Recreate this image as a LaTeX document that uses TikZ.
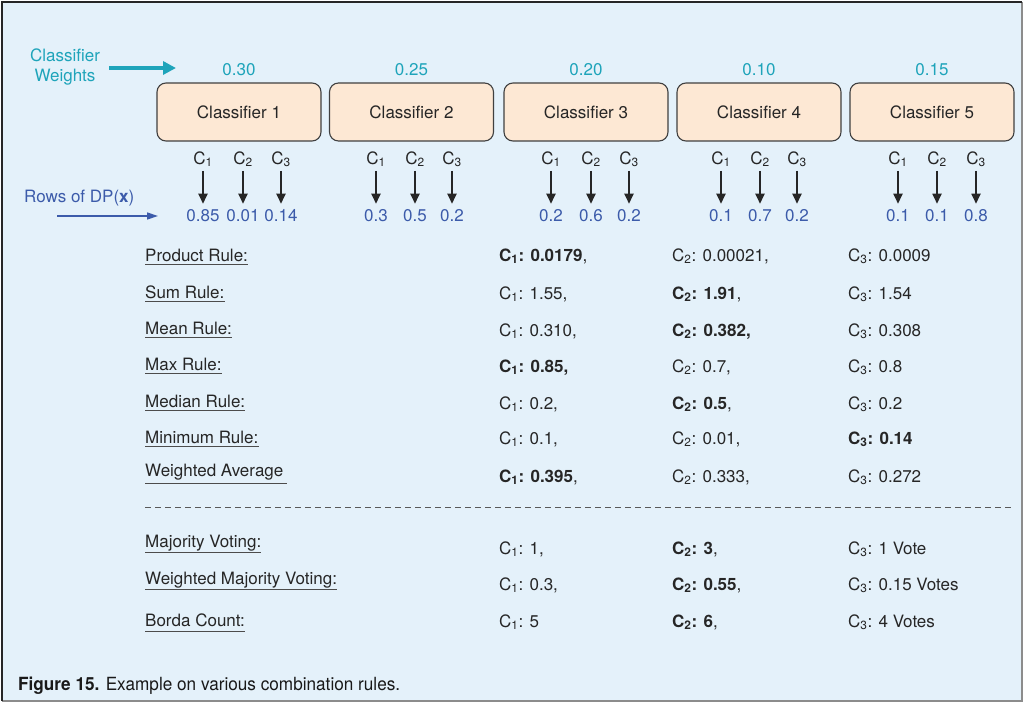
\documentclass[tikz,border=0pt]{standalone}
\usepackage{fontspec}
\setmainfont{TeX Gyre Heros}
\usetikzlibrary{arrows.meta}
\definecolor{bgblue}{HTML}{E4F1FA}
\definecolor{wteal}{HTML}{1EA4BA}
\definecolor{dpblue}{HTML}{3C5BAA}
\definecolor{boxfill}{HTML}{FDE8D4}
\newcommand\Cx[1]{C\textsubscript{#1}}
\tikzset{
  txt/.style={font=\fontsize{17}{20}\selectfont, inner sep=0pt, text=black!85},
  cbox/.style={draw=black!75, line width=1.1pt, fill=boxfill, rounded corners=9pt,
    minimum width=164pt, minimum height=58pt, font=\fontsize{17}{20}\selectfont, text=black!85},
  wt/.style={txt, text=wteal},
  clab/.style={txt, anchor=base, inner sep=2pt},
  vlab/.style={txt, anchor=base, inner sep=2pt, text=dpblue},
  darr/.style={-{Triangle[width=9pt,length=10pt]}, line width=1.8pt, black!85, shorten <=2pt, shorten >=3pt},
  rlab/.style={txt, anchor=base west},
  rval/.style={txt, anchor=base west},
  uline/.style={line width=1pt, black!70},
}
\begin{document}
\begin{tikzpicture}[x=1pt,y=-1pt]
\useasboundingbox (0,0) rectangle (1027,706);
\fill[bgblue] (2,2) rectangle (1022,701);
\draw[black!45, line width=2pt] (1022,2) -- (1022,701) -- (2,701);
\draw[black!85, line width=2pt] (2,701) -- (2,2) -- (1022,2);

% classifier weights
\node[wt, align=center] (cw) at (65,67) {Classifier\\Weights};
\coordinate (cwstart) at (109,68);
\coordinate (cwend) at (176,68);
\draw[wteal, line width=4pt, -{Triangle[width=13pt,length=13pt]}] (cwstart) -- (cwend);

% rows of DP(x)
\node[txt, text=dpblue, anchor=west] (dp) at (24,198) {Rows of DP(\textbf{x})};
\coordinate (dps) at (57,216);
\coordinate (dpe) at (158,216);
\draw[dpblue, line width=1.4pt, -{Triangle[width=7pt,length=11pt]}] (dps) -- (dpe);

% classifiers
\foreach \i/\cx/\w/\xa/\xb/\xc/\va/\vb/\vc in {
  1/239/0.30/203/243/281/0.85/0.01/0.14,
  2/411.5/0.25/376/415/452/0.3/0.5/0.2,
  3/586/0.20/551/591/629/0.2/0.6/0.2,
  4/759/0.10/721/760/797/0.1/0.7/0.2,
  5/932/0.15/898/937/976/0.1/0.1/0.8}{
  \node[cbox] (k\i) at (\cx,112) {Classifier \i};
  \node[wt] (w\i) at (\cx,70) {\w};
  \node[clab] (c\i a) at (\xa,164) {\Cx{1}};
  \node[clab] (c\i b) at (\xb,164) {\Cx{2}};
  \node[clab] (c\i c) at (\xc,164) {\Cx{3}};
  \node[vlab] (v\i a) at (\xa,221) {\va};
  \node[vlab] (v\i b) at (\xb,221) {\vb};
  \node[vlab] (v\i c) at (\xc,221) {\vc};
  \draw[darr] (c\i a) -- (v\i a);
  \draw[darr] (c\i b) -- (v\i b);
  \draw[darr] (c\i c) -- (v\i c);
}

% rules
\foreach \n/\lab/\ly/\vy/\A/\B/\C in {
  1/{Product Rule:}/261/261/{\textbf{\Cx{1}: 0.0179},}/{\Cx{2}: 0.00021,}/{\Cx{3}: 0.0009},
  2/{Sum Rule:}/298/299/{\Cx{1}: 1.55,}/{\textbf{\Cx{2}: 1.91},}/{\Cx{3}: 1.54},
  3/{Mean Rule:}/334/336/{\Cx{1}: 0.310,}/{\textbf{\Cx{2}: 0.382,}}/{\Cx{3}: 0.308},
  4/{Max Rule:}/370/372/{\textbf{\Cx{1}: 0.85,}}/{\Cx{2}: 0.7,}/{\Cx{3}: 0.8},
  5/{Median Rule:}/407/409/{\Cx{1}: 0.2,}/{\textbf{\Cx{2}: 0.5},}/{\Cx{3}: 0.2},
  6/{Minimum Rule:}/443/444/{\Cx{1}: 0.1,}/{\Cx{2}: 0.01,}/{\textbf{\Cx{3}: 0.14}}}{
  \node[rlab] (r\n) at (145,\ly) {\lab};
  \draw[uline] ([yshift=-3.5pt]r\n.base west) -- ([yshift=-3.5pt]r\n.base east);
  \node[rval] (r\n a) at (499,\vy) {\A};
  \node[rval] (r\n b) at (672,\vy) {\B};
  \node[rval] (r\n c) at (848,\vy) {\C};
}
\node[rlab] (r7) at (145,476) {Weighted Average};
\draw[uline] ([yshift=-7pt]r7.base west) -- ([yshift=-7pt,xshift=3pt]r7.base east);
\node[rval] (r7a) at (499,482) {\textbf{\Cx{1}: 0.395},};
\node[rval] (r7b) at (672,482) {\Cx{2}: 0.333,};
\node[rval] (r7c) at (848,482) {\Cx{3}: 0.272};

% dashed separator
\coordinate (dl) at (145,507);
\coordinate (dr) at (1012,507);
\draw[black!65, line width=1pt, dash pattern=on 6pt off 4pt] (dl) -- (dr);

% voting rules
\foreach \n/\lab/\ly/\vy/\A/\B/\C in {
  8/{Majority Voting:}/547/554/{\Cx{1}: 1,}/{\textbf{\Cx{2}: 3},}/{\Cx{3}: 1 Vote},
  9/{Weighted Majority Voting:}/584/590/{\Cx{1}: 0.3,}/{\textbf{\Cx{2}: 0.55},}/{\Cx{3}: 0.15 Votes},
  10/{Borda Count:}/626/627/{\Cx{1}: 5}/{\textbf{\Cx{2}: 6},}/{\Cx{3}: 4 Votes}}{
  \node[rlab] (r\n) at (145,\ly) {\lab};
  \draw[uline] ([yshift=-5pt]r\n.base west) -- ([yshift=-5pt]r\n.base east);
  \node[rval] (r\n a) at (499,\vy) {\A};
  \node[rval] (r\n b) at (672,\vy) {\B};
  \node[rval] (r\n c) at (848,\vy) {\C};
}

% caption
\node[anchor=base west, inner sep=0pt, text=black!90] (cap) at (18,690)
  {\resizebox{382pt}{13.5pt}{\fontsize{16}{19}\selectfont\textbf{Figure 15.} Example on various combination rules.}};
\end{tikzpicture}
\end{document}
